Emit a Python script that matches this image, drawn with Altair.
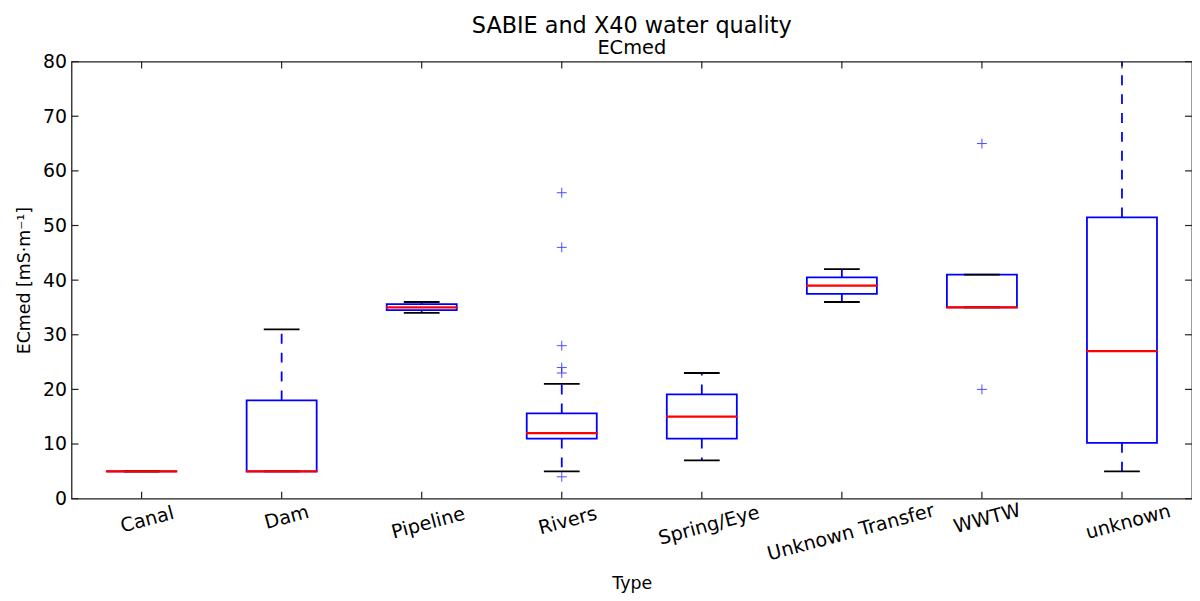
import altair as alt
import pandas as pd

# ---- data ----
cats = ["Canal", "Dam", "Pipeline", "Rivers", "Spring/Eye",
        "Unknown Transfer", "WWTW", "unknown"]
mins = [5, 5, 34, 5, 7, 36, 35, 5]
q1s = [5, 5, 34.5, 11, 11, 37.5, 35, 10.2]
meds = [5, 5, 35, 12, 15, 39, 35, 27]
q3s = [5, 18, 35.6, 15.6, 19.1, 40.5, 41, 51.5]
maxs = [5, 31, 36, 21, 23, 42, 41, 100]  # unknown's upper whisker runs off the axis

out_cats = ["Rivers", "Rivers", "Rivers", "Rivers", "Rivers", "Rivers", "WWTW", "WWTW"]
out_vals = [56, 46, 28, 24, 23, 4, 65, 20]

y_ticks = [0, 10, 20, 30, 40, 50, 60, 70, 80]

title_text = "SABIE and X40 water quality"
subtitle_text = "ECmed"
y_title = "ECmed [mS·m⁻¹]"
x_title = "Type"

stats = pd.DataFrame({"cat": cats, "lo": mins, "q1": q1s, "med": meds,
                      "q3": q3s, "hi": maxs})
outl = pd.DataFrame({"cat": out_cats, "v": out_vals})
ytk = pd.DataFrame({"v": y_ticks})
xtk = pd.DataFrame({"cat": cats})

W, H = 1128, 440
FONT = "DejaVu Sans"
BLUE = "#0000ff"
RED = "#ff0000"
FRAME = "#222222"
LW = 1.8

xscale = alt.Scale(domain=cats, paddingInner=0, paddingOuter=0)
yscale = alt.Scale(domain=[0, 80], nice=False, zero=False)

x_axis = alt.Axis(labels=False, ticks=False, domain=False, grid=False,
                  title=x_title, titleFont=FONT, titleFontSize=17.5,
                  titleFontWeight="normal", titleColor="black",
                  titleY=90, titleBaseline="alphabetic")
y_axis = alt.Axis(values=y_ticks, ticks=False, domain=False, grid=False,
                  labelFont=FONT, labelFontSize=19, labelColor="black",
                  labelPadding=5, title=y_title, titleFont=FONT,
                  titleFontSize=17.5, titleFontWeight="normal",
                  titleColor="black", titleAngle=270, titleX=-47,
                  titleY=H / 2, titleAlign="center", titleBaseline="middle")


def X():
    return alt.X("cat:N", sort=cats, scale=xscale, axis=x_axis)


def Y(field):
    return alt.Y(field, scale=yscale, axis=y_axis)


base = alt.Chart(stats)

boxes = base.mark_bar(filled=False, stroke=BLUE, strokeWidth=LW,
                      width=alt.RelativeBandSize(0.5), clip=True).encode(
    x=X(), y=Y("q1:Q"), y2="q3:Q")

wh_up = base.mark_rule(color=BLUE, strokeWidth=LW, strokeDash=[10, 9],
                       clip=True).encode(x=X(), y=Y("q3:Q"), y2="hi:Q")
wh_lo = base.mark_rule(color=BLUE, strokeWidth=LW, strokeDash=[10, 9],
                       clip=True).encode(x=X(), y=Y("q1:Q"), y2="lo:Q")

cap_hi = base.mark_tick(color="black", size=36, thickness=LW, opacity=1,
                        clip=True).encode(x=X(), y=Y("hi:Q"))
cap_lo = base.mark_tick(color="black", size=36, thickness=LW, opacity=1,
                        clip=True).encode(x=X(), y=Y("lo:Q"))

medians = base.mark_tick(color=RED, size=72, thickness=2.2, opacity=1,
                         clip=True).encode(x=X(), y=Y("med:Q"))

fliers = alt.Chart(outl).mark_point(shape="M-1,0L1,0M0,-1L0,1", size=100,
                                    filled=False, stroke=BLUE, strokeWidth=1,
                                    opacity=0.7, clip=True).encode(
    x=X(), y=Y("v:Q"))

# inward ticks on all four sides (matplotlib classic style)
tk_left = alt.Chart(ytk).mark_rule(color=FRAME, strokeWidth=1.2).encode(
    y=Y("v:Q"), x=alt.value(0), x2=alt.value(7))
tk_right = alt.Chart(ytk).mark_rule(color=FRAME, strokeWidth=1.2).encode(
    y=Y("v:Q"), x=alt.value(W - 7), x2=alt.value(W))
tk_top = alt.Chart(xtk).mark_rule(color=FRAME, strokeWidth=1.2).encode(
    x=X(), y=alt.value(0), y2=alt.value(7))
tk_bot = alt.Chart(xtk).mark_rule(color=FRAME, strokeWidth=1.2).encode(
    x=X(), y=alt.value(H - 7), y2=alt.value(H))

# rotated category labels (top of rotated box aligned, like matplotlib)
labels = alt.Chart(xtk).transform_calculate(
    dyp="16 + 1.2 * length(datum.cat)"
).mark_text(angle=345, align="center", baseline="middle", font=FONT,
            fontSize=19.3, color="black", dy=alt.expr("datum.dyp")).encode(
    x=X(), y=alt.YDatum(0, scale=yscale, axis=y_axis), text="cat:N")

chart = alt.layer(
    boxes, wh_up, wh_lo, cap_hi, cap_lo, medians, fliers,
    tk_left, tk_right, tk_top, tk_bot, labels
).properties(
    width=W, height=H,
    title=alt.TitleParams(text=title_text, subtitle=subtitle_text,
                          font=FONT, subtitleFont=FONT, fontSize=22.5,
                          subtitleFontSize=19.5, fontWeight="normal",
                          color="black", subtitleColor="black",
                          anchor="middle", offset=-5, subtitlePadding=2),
    autosize=alt.AutoSizeParams(type="none"),
    padding={"left": 64, "top": 52, "right": 0, "bottom": 93},
).configure_view(stroke=FRAME, strokeWidth=1.3)

chart.save("out.html", embed_options={"renderer": "svg", "actions": False})
